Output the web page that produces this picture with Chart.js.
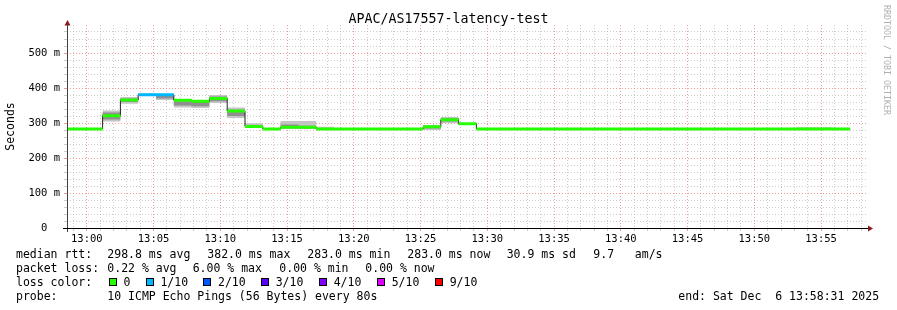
<!DOCTYPE html>
<html><head><meta charset="utf-8">
<script src="https://cdn.jsdelivr.net/npm/chart.js@4/dist/chart.umd.min.js"></script>
<style>
html,body{margin:0;padding:0;background:#fff;}
#wrap{position:relative;width:897px;height:310px;overflow:hidden;font-family:"DejaVu Sans Mono",monospace;color:#000;background:#fff;}
#c{position:absolute;left:0;top:0;}
.t{position:absolute;white-space:pre;font-size:11.5px;line-height:14px;}
.box{position:absolute;width:6px;height:6px;border:1px solid #000;}
#title{position:absolute;left:0;top:11px;width:897px;text-align:center;font-size:13.3px;line-height:16px;white-space:pre;}
#side{position:absolute;left:882px;top:5px;writing-mode:vertical-rl;font-size:8.3px;line-height:10px;color:#b0b0b0;white-space:pre;}
</style></head>
<body><div id="wrap"><canvas id="c" width="897" height="310"></canvas></div>
<script>
// ---- data ----
const chartTitle = 'APAC/AS17557-latency-test';
const startOffsetSec = -89;          // 12:58:31 relative to 13:00:00
const stepSec = 80;
const medianMs = [283,283,321,366,381,381,365,362,370,334,290,283,288,288,283,283,283,283,283,283,
                  289,309,298,283,283,283,283,283,283,283,283,283,283,283,283,283,283,283,283,283,283,283,283,283];
const lossTenths = [0,0,0,0,1,1,0,0,0,0,0,0,0,0,0,0,0,0,0,0,0,0,0,0,0,0,0,0,0,0,0,0,0,0,0,0,0,0,0,0,0,0,0,0];
const smokeOuterLo = [283,283,304,355,379,366,344,343,357,314,286,281,283,283,283,283,283,283,283,283,
                      280,300,294,283,283,283,283,283,283,283,283,283,283,283,283,283,283,283,283,283,283,283,283,283];
const smokeOuterHi = [283,283,336,374,384,383,367,366,380,344,299,285,306,306,289,283,283,283,283,283,
                      294,317,300,283,283,283,283,283,283,283,283,283,283,283,283,283,283,283,283,283,283,288,288,283];
const smokeInnerLo = [283,283,310,360,380,370,350,348,362,320,288,282,285,284,283,283,283,283,283,283,
                      284,304,295,283,283,283,283,283,283,283,283,283,283,283,283,283,283,283,283,283,283,283,283,283];
const smokeInnerHi = [283,283,330,370,383,380,362,360,376,338,294,284,296,292,285,283,283,283,283,283,
                      292,314,299,283,283,283,283,283,283,283,283,283,283,283,283,283,283,283,283,283,283,285,285,283];
const xTickLabels = ['13:00','13:05','13:10','13:15','13:20','13:25','13:30','13:35','13:40','13:45','13:50','13:55'];
const yTickLabels = ['0  ','100 m','200 m','300 m','400 m','500 m'];
const lossColorNames = ['0','1/10','2/10','3/10','4/10','5/10','9/10'];
const lossColorValues = ['#26ff00','#00b8ff','#0059ff','#5e00ff','#7e00ff','#dd00ff','#ff0000'];
const rttStats = ['298.8 ms avg','382.0 ms max','283.0 ms min','283.0 ms now','30.9 ms sd','9.7   am/s'];
const lossStats = ['0.22 % avg','6.00 % max','0.00 % min','0.00 % now'];
const probeText = '10 ICMP Echo Pings (56 Bytes) every 80s';
const endText = 'end: Sat Dec  6 13:58:31 2025';
const yMax = 580;

// ---- build ----
const t0 = startOffsetSec/60, stepMin = stepSec/60;
function pts(arr){
  const p = arr.map((v,i)=>({x:t0+i*stepMin, y:v}));
  p.push({x:t0+arr.length*stepMin, y:arr[arr.length-1]});
  return p;
}
const bandHalf = 4.3;
const bandLo = medianMs.map(v=>v-bandHalf), bandHi = medianMs.map(v=>v+bandHalf);
const majorGrid = 'rgba(235,120,120,0.75)', minorGrid = 'rgba(170,170,170,0.6)';
const common = {pointRadius:0, borderWidth:0, stepped:true, tension:0};
const font = (s)=>({family:'"DejaVu Sans Mono", monospace', size:s});

const axisDeco = {id:'axisDeco', afterDraw(chart){
  const {ctx, chartArea:a} = chart;
  ctx.save();
  ctx.strokeStyle='#404040'; ctx.lineWidth=1;
  ctx.beginPath(); ctx.moveTo(a.left+0.5, a.top-3); ctx.lineTo(a.left+0.5, a.bottom+4); ctx.stroke();
  ctx.strokeStyle='#000';
  ctx.beginPath(); ctx.moveTo(a.left-4, a.bottom+0.5); ctx.lineTo(a.right+2, a.bottom+0.5); ctx.stroke();
  ctx.fillStyle='#8b1a1a';
  ctx.beginPath(); ctx.moveTo(a.left+0.5, a.top-5); ctx.lineTo(a.left-2.5, a.top+0.5); ctx.lineTo(a.left+3.5, a.top+0.5); ctx.closePath(); ctx.fill();
  ctx.beginPath(); ctx.moveTo(a.right+5, a.bottom+0.5); ctx.lineTo(a.right, a.bottom-2.5); ctx.lineTo(a.right, a.bottom+3.5); ctx.closePath(); ctx.fill();
  ctx.restore();
}};

new Chart(document.getElementById('c'), {
  type:'line',
  data:{datasets:[
    {...common, data:pts(smokeOuterLo), order:10},
    {...common, data:pts(smokeOuterHi), fill:'-1', backgroundColor:'#c4c4c4', order:10},
    {...common, data:pts(smokeInnerLo), order:9},
    {...common, data:pts(smokeInnerHi), fill:'-1', backgroundColor:'#8f8f8f', order:9},
    {...common, data:pts(medianMs), borderWidth:1, borderColor:'#202020', order:8},
    {...common, data:pts(bandLo), order:7},
    {...common, data:pts(bandHi), fill:'-1', backgroundColor:lossColorValues[0], order:7,
      segment:{backgroundColor: c => lossColorValues[lossTenths[c.p0DataIndex]] || lossColorValues[0]}}
  ]},
  options:{
    responsive:false, animation:false, devicePixelRatio:1,
    layout:{padding:{left:0, top:25, right:29, bottom:62}},
    plugins:{legend:{display:false}, tooltip:{enabled:false}, title:{display:false}},
    scales:{
      x:{type:'linear', min:t0, max:t0+60,
        afterFit: s=>{ s.height = 20; },
        afterBuildTicks: s=>{ const t=[]; for(let m=Math.ceil(t0); m<=Math.floor(t0+60); m++) t.push({value:m}); s.ticks=t; },
        ticks:{autoSkip:false, maxRotation:0, padding:2, color:'#000', font:font(10.5),
          callback: v => (v%5===0 && v>=0) ? (xTickLabels[v/5]||'') : ''},
        grid:{color: c => (c.tick && c.tick.value%5===0) ? majorGrid : minorGrid, tickLength:3, drawTicks:true},
        border:{display:false, dash:[1,2]}
      },
      y:{type:'linear', min:0, max:yMax,
        afterFit: s=>{ s.width = 67; },
        afterBuildTicks: s=>{ const t=[]; for(let v=0; v<yMax; v+=20) t.push({value:v}); s.ticks=t; },
        ticks:{autoSkip:false, padding:4, color:'#000', font:font(10.5),
          callback: v => v%100===0 ? (yTickLabels[v/100]||'') : ''},
        grid:{color: c => (c.tick && c.tick.value%100===0) ? majorGrid : minorGrid, tickLength:3, drawTicks:true},
        border:{display:false, dash:[1,2]},
        title:{display:true, text:'Seconds', color:'#000', font:font(11.5), padding:{top:4, bottom:0}}
      }
    }
  },
  plugins:[axisDeco]
});

// ---- text ----
const wrap = document.getElementById('wrap');
function addText(x,y,txt,cls){ const d=document.createElement('div'); d.className=cls||'t'; d.style.left=x+'px'; d.style.top=y+'px'; d.textContent=txt; wrap.appendChild(d); return d; }
const ti = document.createElement('div'); ti.id='title'; ti.textContent=chartTitle; wrap.appendChild(ti);
const sd = document.createElement('div'); sd.id='side'; sd.textContent='RRDTOOL / TOBI OETIKER'; wrap.appendChild(sd);
const rttX = [107.3,207.3,307.3,407.3,506.7,593.3];
addText(16,247,'median rtt:'); rttStats.forEach((s,i)=>addText(rttX[i],247,s));
const lossX = [107.3,192.7,279.3,365.3];
addText(16,261,'packet loss:'); lossStats.forEach((s,i)=>addText(lossX[i],261,s));
const boxX = [108.7,145.7,203.3,261,319,377,435];
addText(16,275,'loss color:');
lossColorNames.forEach((n,i)=>{
  const b=document.createElement('div'); b.className='box'; b.style.left=boxX[i]+'px'; b.style.top='278px'; b.style.background=lossColorValues[i]; wrap.appendChild(b);
  addText(boxX[i]+14.7,275,n);
});
addText(16,289,'probe:'); addText(107.3,289,probeText); addText(678.3,289,endText);
</script>
</body></html>
